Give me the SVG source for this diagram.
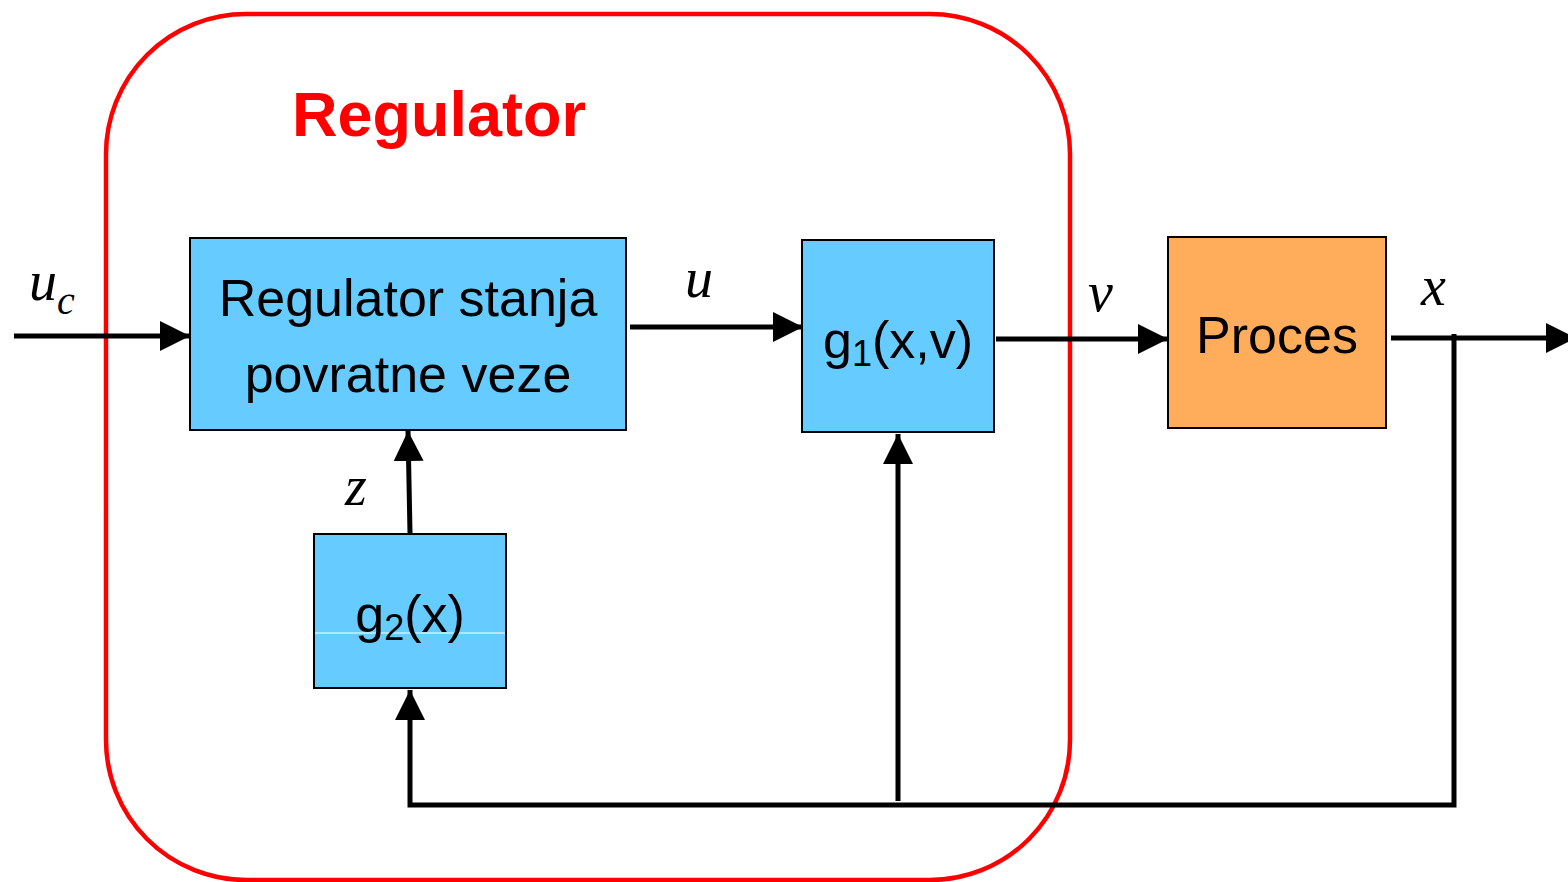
<svg xmlns="http://www.w3.org/2000/svg" width="1568" height="882" viewBox="0 0 1568 882">
<defs>
<marker id="ah" viewBox="0 0 10 10" refX="10" refY="5" markerWidth="6" markerHeight="6" markerUnits="strokeWidth" orient="auto">
<path d="M0,0 L10,5 L0,10 z" fill="#000"/>
</marker>
<style>
.blk{fill:#66CCFF;stroke:#000;stroke-width:2}
.lbl{font-family:"Liberation Sans",Arial,sans-serif;font-size:52px;fill:#000;text-anchor:middle}
.var{font-family:"Liberation Serif","Times New Roman",serif;font-style:italic;font-size:56px;fill:#000}
.ln{stroke:#000;stroke-width:5;fill:none}
</style>
</defs>
<rect width="1568" height="882" fill="#fff"/>
<g id="regulator-frame">
<rect x="106" y="14" width="964" height="866" rx="140" ry="140" fill="none" stroke="#FF0000" stroke-width="4.5"/>
<text x="439" y="136" font-family="Liberation Sans,Arial,sans-serif" font-weight="bold" font-size="63" fill="#FF0000" text-anchor="middle">Regulator</text>
</g>
<g id="connectors">
<line class="ln" x1="14" y1="336" x2="190" y2="336" marker-end="url(#ah)"/>
<line class="ln" x1="630" y1="327" x2="803" y2="327" marker-end="url(#ah)"/>
<line class="ln" x1="996" y1="339" x2="1168" y2="339" marker-end="url(#ah)"/>
<line class="ln" x1="1391" y1="338" x2="1576" y2="338" marker-end="url(#ah)"/>
<polyline class="ln" points="1454,334 1454,805 410,805 410,690" marker-end="url(#ah)"/>
<line class="ln" x1="898" y1="801" x2="898" y2="434" marker-end="url(#ah)"/>
<line class="ln" x1="410" y1="533" x2="408" y2="431" marker-end="url(#ah)"/>
</g>
<g id="node-regulator-stanja">
<rect class="blk" x="190" y="238" width="436" height="192"/>
<text class="lbl" x="408" y="316">Regulator stanja</text>
<text class="lbl" x="408" y="392">povratne veze</text>
</g>
<g id="node-g1">
<rect class="blk" x="802" y="240" width="192" height="192"/>
<text class="lbl" x="898" y="358">g<tspan font-size="36" dy="8">1</tspan><tspan dy="-8">(x,v)</tspan></text>
</g>
<g id="node-g2">
<rect class="blk" x="314" y="534" width="192" height="154"/>
<line x1="315" y1="633" x2="505" y2="633" stroke="#fff" stroke-width="1"/>
<text class="lbl" x="410" y="632">g<tspan font-size="36" dy="8">2</tspan><tspan dy="-8">(x)</tspan></text>
</g>
<g id="node-proces">
<rect x="1168" y="237" width="218" height="191" fill="#FFAD5B" stroke="#000" stroke-width="2"/>
<text class="lbl" x="1277" y="353">Proces</text>
</g>
<g id="labels">
<text class="var" x="29" y="300">u<tspan font-size="40" dy="14">c</tspan></text>
<text class="var" x="685" y="297">u</text>
<text class="var" x="1088" y="311">v</text>
<text class="var" x="1421" y="305">x</text>
<text class="var" x="345" y="505">z</text>
</g>
</svg>
